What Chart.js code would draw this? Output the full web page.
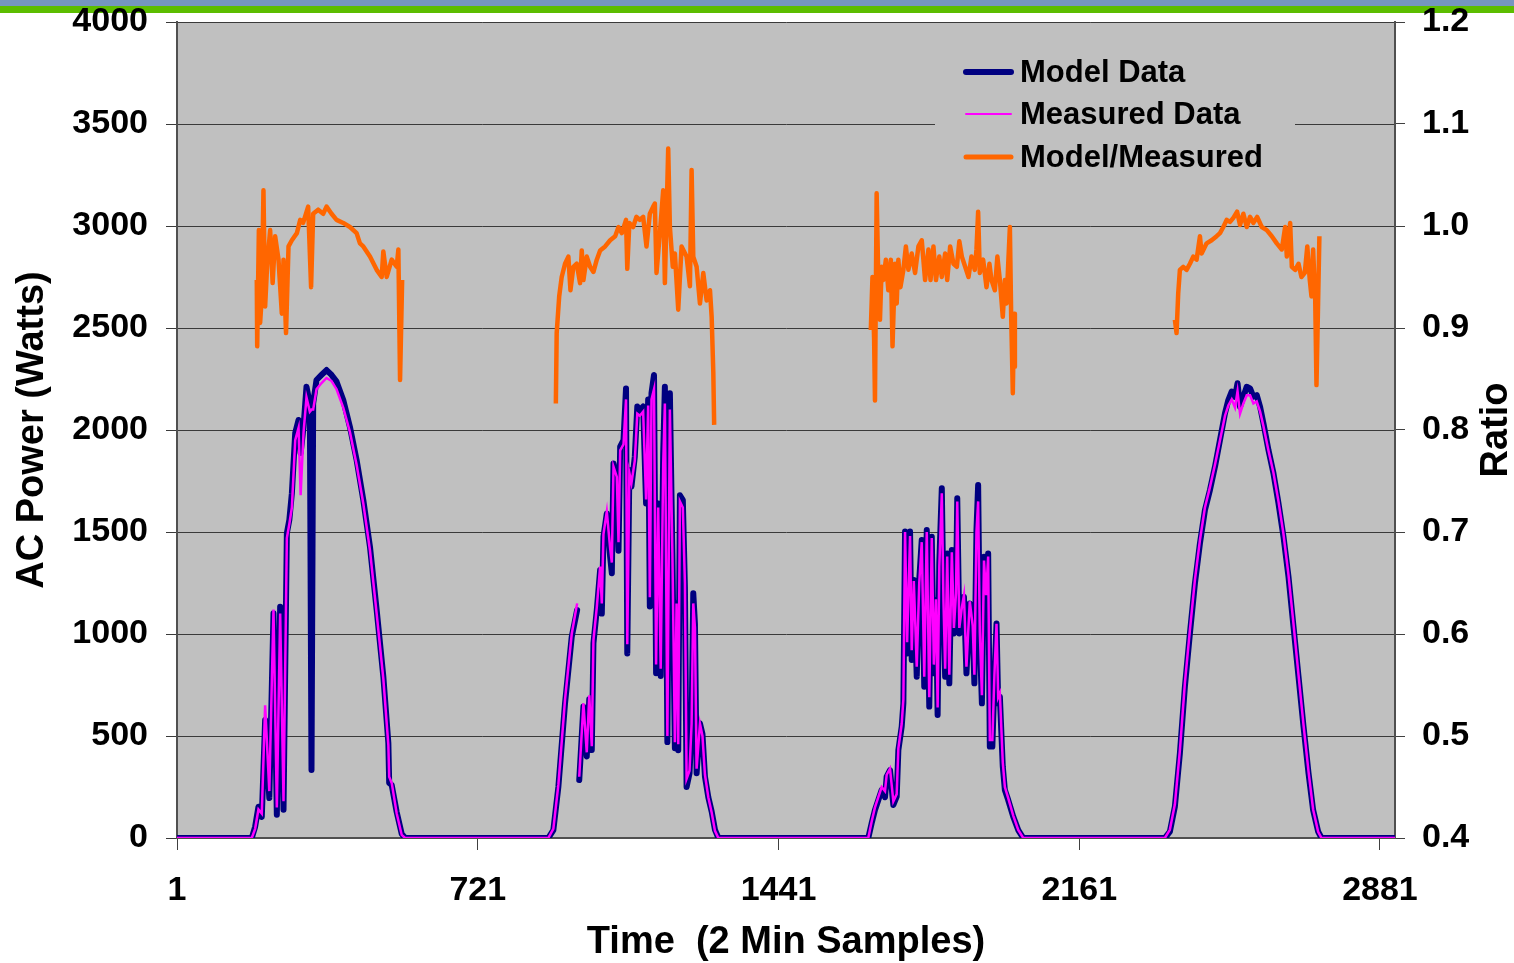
<!DOCTYPE html>
<html>
<head>
<meta charset="utf-8">
<script src="https://cdn.jsdelivr.net/npm/chart.js@4.4.0/dist/chart.umd.min.js"></script>
<style>
  html, body { margin: 0; padding: 0; background: #ffffff; }
  #wrap { position: relative; width: 1514px; height: 963px; overflow: hidden; background: #ffffff; }
  #band1 { position: absolute; left: 0; top: 0; width: 1514px; height: 6px; background: #7596c0; }
  #band2 { position: absolute; left: 0; top: 6px; width: 1514px; height: 7px; background: #5cbd00; }
  canvas { position: absolute; left: 0; top: 0; }
</style>
</head>
<body>
<div id="wrap">
  <div id="band1"></div>
  <div id="band2"></div>
  <canvas id="myChart" width="1514" height="963"></canvas>
</div>
<script>
// sample index (2 min samples) and AC power in watts
const powerSample = [
  1, 180, 188, 196, 204, 212, 222, 232, 240, 248, 256, 264, 270, 276, 284, 292, 297, 304, 311, 319, 323, 327,
  335, 347, 359, 371, 383, 399, 415, 431, 447, 463, 479, 495, 507, 509, 515, 527, 539, 547,
  890, 902, 914, 930, 946, 959, 961, 964, 974, 982, 988, 994, 998, 1006, 1014, 1018, 1022, 1030, 1038, 1042,
  1046, 1054, 1058, 1062, 1070, 1076, 1079, 1084, 1089, 1097, 1103, 1109, 1117, 1124, 1129, 1133, 1137, 1143,
  1148, 1153, 1159, 1165, 1169, 1175, 1181, 1187, 1193, 1197, 1201, 1205, 1212, 1217, 1221, 1228, 1233, 1237,
  1241, 1245, 1253, 1259, 1265, 1273, 1281, 1289, 1297,
  1656, 1664, 1672, 1680, 1688, 1696, 1700, 1708, 1716, 1724, 1728, 1736, 1740, 1744, 1749, 1756, 1760, 1765,
  1772, 1778, 1784, 1790, 1796, 1802, 1808, 1813, 1818, 1822, 1826, 1832, 1836, 1840, 1845, 1850, 1856, 1861,
  1866, 1869, 1874, 1880, 1885, 1891, 1899, 1906, 1910, 1915, 1919, 1923, 1928, 1933, 1938, 1943, 1947, 1953,
  1958, 1963, 1967, 1971, 1978, 1983, 1991, 2003, 2015, 2027,
  2366, 2378, 2390, 2402, 2414, 2426, 2438, 2450, 2462, 2474, 2486, 2498, 2510, 2518, 2526, 2534, 2540, 2546,
  2554, 2562, 2570, 2578, 2586, 2594, 2602, 2614, 2626, 2638, 2650, 2662, 2674, 2686, 2698, 2710, 2721, 2733,
  2741, 2917
];
const modelWatts = [
  0, 0, 55, 153, 103, 578, 196, 1102, 114, 1134, 139, 1494, 1560, 1690, 1985, 2049, 1887, 2016, 2212, 2130, 333, 2130,
  2245, 2270, 2294, 2270, 2237, 2147, 2015, 1853, 1657, 1427, 1118, 791, 466, 270, 260, 127, 20, 0,
  0, 39, 250, 661, 986, 1118, null, 284, 644, 400, 680, 431, 955, 1118, 1314, 1100, 1477, 1591, 1379, 1298,
  1836, 1755, 1408, 1918, 1950, 2204, 905, 1804, 1722, 1869, 2115, 2098, 2115, 1640, 2150, 1135, 2180, 2270,
  808, 1640, 794, 1886, 2212, 470, 2180, 1397, 440, 1152, 430, 1680, 1657, 1231, 250, 317, 550, 1200,
  1050, 317, 562, 510, 300, 200, 130, 40, 0,
  0, 72, 137, 186, 235, 200, 301, 333, 162, 203, 431, 546, 660, 1502, 905, 1502, 873, 1265,
  791, 1265, 1461, 742, 1510, 644, 1477, 807, 1167, 603, 1346, 1714, 1150, 791, 1395, 758, 1412, 1003,
  1199, 1665, 1003, 1118, 1183, 807, 1150, 1020, 758, 1510, 1730, 987, 660, 1379, 1183, 1395, 448, 448,
  775, 1052, 660, 693, 350, 235, 186, 105, 39, 0,
  0, 31, 154, 415, 742, 1003, 1248, 1444, 1608, 1706, 1820, 1951, 2082, 2147, 2188, 2163, 2229, 2114,
  2163, 2212, 2204, 2163, 2171, 2114, 2033, 1902, 1788, 1641, 1477, 1281, 1036, 791, 546, 317, 137, 31,
  0, 0
];
const measuredWatts = [
  0, 0, 45, 140, 120, 650, 230, 1120, 150, 1100, 180, 1470, 1540, 1620, 1950, 2010, 1680, 1990, 2160, 2090, 2100, 2100,
  2200, 2230, 2255, 2240, 2200, 2110, 1990, 1830, 1640, 1410, 1100, 780, 455, 300, 270, 120, 15, 0,
  0, 45, 260, 680, 1000, 1150, null, 300, 660, 420, 700, 450, 970, 1130, 1330, 1150, 1490, 1600, 1420, 1350,
  1820, 1770, 1450, 1900, 1930, 2150, 950, 1790, 1740, 1850, 2080, 2070, 2090, 1660, 2120, 1180, 2150, 2200,
  850, 1620, 830, 1830, 2130, 500, 2100, 1400, 470, 1150, 460, 1650, 1620, 1250, 290, 330, 560, 1150,
  1030, 340, 560, 500, 310, 200, 125, 35, 0,
  0, 80, 150, 200, 250, 230, 310, 340, 180, 215, 440, 560, 680, 1500, 960, 1480, 920, 1260,
  840, 1250, 1450, 790, 1500, 690, 1470, 850, 1170, 640, 1330, 1690, 1160, 830, 1380, 800, 1400, 1030,
  1200, 1650, 1030, 1130, 1190, 840, 1160, 1040, 800, 1500, 1650, 1010, 700, 1360, 1190, 1380, 480, 480,
  800, 1050, 690, 710, 370, 250, 195, 110, 40, 0,
  0, 40, 165, 430, 760, 1020, 1265, 1460, 1620, 1720, 1830, 1950, 2070, 2120, 2150, 2110, 2190, 2080,
  2130, 2170, 2170, 2130, 2140, 2090, 2020, 1900, 1790, 1650, 1490, 1290, 1050, 800, 555, 325, 140, 30,
  0, 0
];

// model / measured ratio (right axis), null between days
const ratioSample = [
  192, 193, 197, 200, 204, 208, 212, 217, 224, 230, 236, 244, 252, 256, 262, 268, 276, 288, 296, 303, 315, 322,
  327, 339, 351, 359, 371, 383, 399, 415, 431, 439, 447, 463, 479, 491, 495, 503, 515, 527, 531, 535, 540,
  700,
  908, 910, 916, 922, 930, 938, 943, 950, 958, 966, 970, 974, 982, 990, 998, 1006, 1014, 1026, 1038, 1050, 1058,
  1066, 1076, 1079, 1084, 1093, 1101, 1109, 1117, 1125, 1133, 1141, 1145, 1149, 1157, 1165, 1169, 1177, 1181,
  1188, 1193, 1201, 1209, 1221, 1229, 1233, 1237, 1245, 1253, 1261, 1269, 1277, 1281, 1285, 1287,
  1450,
  1662, 1666, 1670, 1672, 1676, 1680, 1684, 1688, 1692, 1698, 1704, 1710, 1714, 1720, 1724, 1728, 1733, 1740,
  1746, 1752, 1760, 1768, 1776, 1784, 1792, 1800, 1805, 1812, 1818, 1826, 1832, 1840, 1845, 1852, 1860, 1868,
  1874, 1880, 1888, 1896, 1903, 1911, 1915, 1919, 1923, 1931, 1939, 1946, 1951, 1959, 1965, 1971, 1978, 1983,
  1987, 1991, 1995, 1998, 2002, 2005, 2007,
  2200,
  2390, 2394, 2398, 2402, 2410, 2418, 2426, 2434, 2442, 2450, 2454, 2466, 2478, 2490, 2498, 2506, 2514, 2522,
  2530, 2539, 2546, 2554, 2562, 2570, 2578, 2587, 2598, 2610, 2622, 2634, 2646, 2654, 2658, 2666, 2670, 2678,
  2686, 2693, 2701, 2707, 2713, 2717, 2721, 2726, 2729, 2733, 2736
];
const ratioValue = [
  0.947, 0.882, 0.996, 0.905, 0.931, 1.035, 0.921, 0.963, 0.996, 0.944, 0.990, 0.967, 0.914, 0.967, 0.895, 0.980,
  0.986, 0.993, 1.006, 1.003, 1.019, 0.940, 1.012, 1.016, 1.012, 1.019, 1.012, 1.006, 1.003, 0.999, 0.993, 0.983,
  0.980, 0.970, 0.957, 0.950, 0.975, 0.950, 0.967, 0.960, 0.977, 0.849, 0.947,
  null,
  0.826, 0.895, 0.931, 0.950, 0.963, 0.970, 0.937, 0.960, 0.963, 0.944, 0.976, 0.947, 0.970, 0.960, 0.955, 0.967,
  0.976, 0.980, 0.986, 0.990, 0.999, 0.993, 1.006, 0.958, 1.003, 0.999, 1.009, 1.006, 1.009, 0.980, 1.012, 1.019,
  1.022, 0.954, 0.993, 1.035, 0.944, 1.076, 0.999, 0.960, 0.973, 0.918, 0.980, 0.970, 0.941, 1.055, 0.970, 0.960,
  0.924, 0.954, 0.927, 0.937, 0.911, 0.856, 0.805,
  null,
  0.898, 0.950, 0.888, 0.829, 1.032, 0.947, 0.908, 0.960, 0.947, 0.967, 0.937, 0.967, 0.882, 0.963, 0.924, 0.967,
  0.940, 0.957, 0.980, 0.957, 0.973, 0.954, 0.980, 0.986, 0.947, 0.977, 0.947, 0.980, 0.947, 0.970, 0.950, 0.973,
  0.947, 0.980, 0.963, 0.960, 0.985, 0.970, 0.960, 0.950, 0.970, 0.957, 0.977, 1.014, 0.954, 0.967, 0.940, 0.963,
  0.947, 0.937, 0.970, 0.947, 0.911, 0.947, 0.924, 0.963, 0.999, 0.914, 0.836, 0.914, 0.862,
  null,
  0.908, 0.895, 0.934, 0.957, 0.960, 0.957, 0.963, 0.970, 0.967, 0.990, 0.973, 0.983, 0.986, 0.990, 0.993, 0.999,
  1.006, 1.004, 1.008, 1.014, 1.001, 1.012, 0.999, 1.009, 1.003, 1.009, 0.999, 0.996, 0.990, 0.983, 0.977, 0.999,
  0.970, 1.003, 0.960, 0.957, 0.963, 0.950, 0.954, 0.980, 0.947, 0.931, 0.977, 0.927, 0.844, 0.927, 0.990
];

const xTicks = [1, 721, 1441, 2161, 2881];
const legendLabels = ["Model Data", "Measured Data", "Model/Measured"];
const legendColors = ["#000080", "#ff00ff", "#ff6600"];
const legendWidths = [6, 2, 5];

const modelPts = powerSample.map((s, i) => ({ x: s, y: modelWatts[i] }));
const measuredPts = powerSample.map((s, i) => ({ x: s, y: measuredWatts[i] }));
const ratioPts = ratioSample.map((s, i) => ({ x: s, y: ratioValue[i] }));

const boldFont = (size) => ({ family: "'Liberation Sans', Arial, sans-serif", size: size, weight: "bold" });

// fondo gris del area de trazado (el resto del canvas queda transparente)
const plotBg = {
  id: "plotBg",
  beforeDraw(chart) {
    const { ctx, chartArea } = chart;
    ctx.save();
    ctx.fillStyle = "#c0c0c0";
    ctx.fillRect(chartArea.left, chartArea.top, chartArea.right - chartArea.left, chartArea.bottom - chartArea.top);
    ctx.restore();
  }
};

// leyenda dentro del grafico + titulo del eje derecho
const extras = {
  id: "extras",
  afterDatasetsDraw(chart) {
    const ctx = chart.ctx;
    ctx.save();
    ctx.fillStyle = "#c0c0c0";
    ctx.fillRect(935, 52, 360, 128);
    ctx.font = "bold 31px 'Liberation Sans', Arial, sans-serif";
    ctx.textBaseline = "middle";
    ctx.lineCap = "round";
    const rows = [72, 114, 157];
    legendLabels.forEach((lbl, i) => {
      ctx.strokeStyle = legendColors[i];
      ctx.lineWidth = legendWidths[i];
      ctx.beginPath();
      ctx.moveTo(966, rows[i]);
      ctx.lineTo(1011, rows[i]);
      ctx.stroke();
      ctx.fillStyle = "#000000";
      ctx.fillText(lbl, 1020, rows[i] + 1);
    });
    ctx.translate(1497, 430);
    ctx.rotate(-Math.PI / 2);
    ctx.textAlign = "center";
    ctx.font = "bold 38px 'Liberation Sans', Arial, sans-serif";
    ctx.fillText("Ratio", 0, 0);
    ctx.restore();
  }
};

// sin relleno extra arriba/abajo por las etiquetas
const noLabelPad = (s) => { s.paddingTop = 0; s.paddingBottom = 0; };

const ctx = document.getElementById("myChart").getContext("2d");
new Chart(ctx, {
  type: "line",
  data: {
    datasets: [
      { label: "Measured Data", data: measuredPts, borderColor: "#ff00ff", borderWidth: 2.5, yAxisID: "y" },
      { label: "Model Data", data: modelPts, borderColor: "#000080", borderWidth: 6, yAxisID: "y",
        borderCapStyle: "round", borderJoinStyle: "round" },
      { label: "Model/Measured", data: ratioPts, borderColor: "#ff6600", borderWidth: 4.5, yAxisID: "y1",
        borderJoinStyle: "round" }
    ]
  },
  options: {
    responsive: false,
    animation: false,
    devicePixelRatio: 1,
    spanGaps: false,
    elements: { point: { radius: 0 }, line: { tension: 0 } },
    layout: { padding: { top: 22, left: 0, right: 0, bottom: 0 } },
    plugins: { legend: { display: false }, tooltip: { enabled: false } },
    scales: {
      x: {
        type: "linear",
        min: 1,
        max: 2917,
        afterBuildTicks: (s) => { s.ticks = xTicks.map((v) => ({ value: v })); },
        afterFit: (s) => { s.height = 125; s.paddingLeft = 0; s.paddingRight = 0; },
        ticks: { font: boldFont(34), color: "#000000", maxRotation: 0, autoSkip: false, padding: 20,
          callback: (v) => String(v) },
        grid: { drawOnChartArea: false, drawTicks: true, tickLength: 12, color: "#404040" },
        border: { display: true, color: "#505050", width: 2 },
        title: { display: true, text: "Time  (2 Min Samples)", font: { ...boldFont(38), lineHeight: 1.1 },
          color: "#000000", padding: 0 }
      },
      y: {
        position: "left",
        min: 0,
        max: 4000,
        afterFit: (s) => { s.width = 177; noLabelPad(s); },
        ticks: { stepSize: 500, font: boldFont(34), color: "#000000", padding: 18,
          callback: (v) => String(v) },
        grid: { color: "#3a3a3a", lineWidth: 1, tickLength: 11 },
        border: { display: true, color: "#505050", width: 2 },
        title: { display: true, text: "AC Power (Watts)", font: boldFont(38), color: "#000000",
          padding: { top: 10, bottom: 0 } }
      },
      y1: {
        position: "right",
        min: 0.4,
        max: 1.2,
        afterFit: (s) => { s.width = 119; noLabelPad(s); },
        ticks: { stepSize: 0.1, font: boldFont(34), color: "#000000", padding: 17,
          callback: (v) => v.toFixed(1) },
        grid: { drawOnChartArea: false, tickLength: 10, color: "#404040" },
        border: { display: true, color: "#505050", width: 2 }
      }
    }
  },
  plugins: [plotBg, extras]
});
</script>
</body>
</html>
